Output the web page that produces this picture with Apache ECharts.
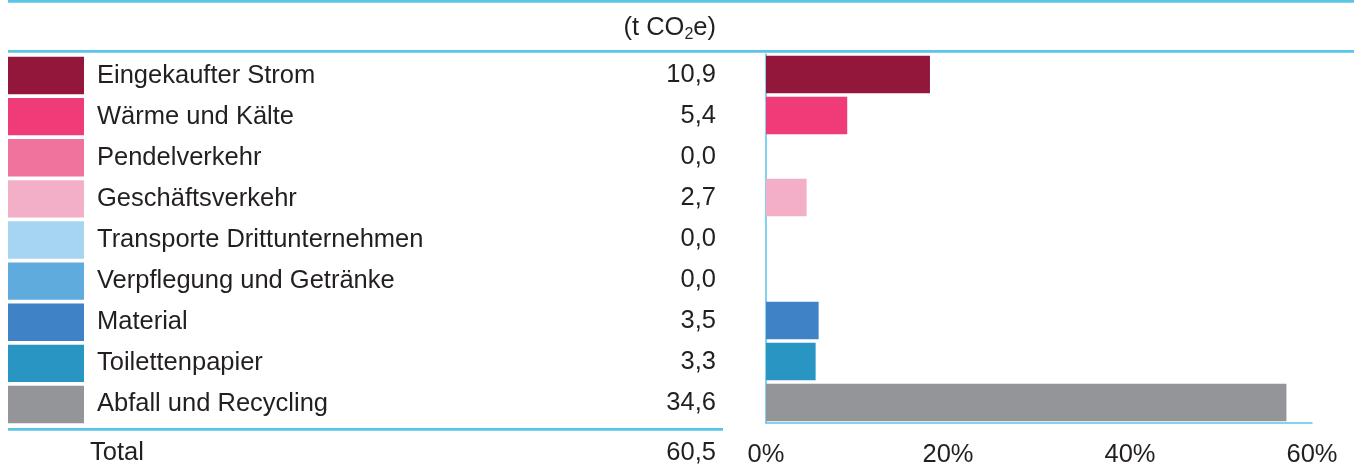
<!DOCTYPE html>
<html>
<head>
<meta charset="utf-8">
<script src="https://cdn.jsdelivr.net/npm/echarts@6/dist/echarts.min.js"></script>
<style>
html,body{margin:0;padding:0;background:#fff;}
#chart{width:1357px;height:468px;}
</style>
</head>
<body>
<div id="chart"></div>
<script>
// ---- data ----
var categories = ['Eingekaufter Strom','Wärme und Kälte','Pendelverkehr','Geschäftsverkehr','Transporte Drittunternehmen','Verpflegung und Getränke','Material','Toilettenpapier','Abfall und Recycling'];
var values = [10.9, 5.4, 0.0, 2.7, 0.0, 0.0, 3.5, 3.3, 34.6];
var colors = ['#93173b','#ef3b78','#ef739c','#f4afc8','#a6d5f1','#5fabdd','#3f82c5','#2995c3','#939598'];
var total = 60.5;
var totalLabel = 'Total';
var pctTicks = [0, 20, 40, 60];

// ---- chart ----
var FONT = '"Liberation Sans", Arial, sans-serif';
var FS = 25.5;
var TXT = '#231f20';
var BLUE = '#5bc5e8';
function fmt(v){ return v.toFixed(1).replace('.', ','); }

var chart = echarts.init(document.getElementById('chart'), null, {renderer:'canvas'});
var option = {
  animation:false,
  textStyle:{fontFamily:FONT},
  grid:[
    {left:766, right:45, top:54, height:370, containLabel:false},
    {left:8, width:76, top:55, height:370, containLabel:false}
  ],
  xAxis:[
    {type:'value', gridIndex:0, min:pctTicks[0], max:pctTicks[pctTicks.length-1], interval:pctTicks[1]-pctTicks[0],
     splitLine:{show:false}, axisTick:{show:false},
     axisLine:{show:true, lineStyle:{color:BLUE, width:1.5}},
     axisLabel:{formatter:'{value}%', fontSize:FS, color:TXT, fontFamily:FONT, margin:19}},
    {type:'value', gridIndex:1, min:0, max:1, show:false}
  ],
  yAxis:[
    {type:'category', gridIndex:0, inverse:true, data:values.map(fmt),
     axisTick:{show:false}, splitLine:{show:false},
     axisLine:{show:true, lineStyle:{color:BLUE, width:1.5}},
     axisLabel:{interval:0, fontSize:FS, color:TXT, fontFamily:FONT, margin:50, padding:[5,0,0,0]}},
    {type:'category', gridIndex:1, inverse:true, position:'right', data:categories,
     axisTick:{show:false}, axisLine:{show:false}, splitLine:{show:false},
     axisLabel:{interval:0, fontSize:FS, color:TXT, fontFamily:FONT, margin:13, align:'left', padding:[3,0,0,0]}}
  ],
  series:[
    {type:'bar', xAxisIndex:0, yAxisIndex:0, barCategoryGap:'8%',
     data:values.map(function(v,i){return {value:v/total*100, itemStyle:{color:colors[i]}};})},
    {type:'bar', xAxisIndex:1, yAxisIndex:1, barCategoryGap:'9%',
     data:categories.map(function(c,i){return {value:1, itemStyle:{color:colors[i]}};})}
  ],
  graphic:[
    {type:'line', shape:{x1:8, y1:1.3, x2:1354, y2:1.3}, style:{stroke:BLUE, lineWidth:2.7}},
    {type:'line', shape:{x1:8, y1:51.3, x2:1354, y2:51.3}, style:{stroke:BLUE, lineWidth:2.7}},
    {type:'line', shape:{x1:8, y1:429.3, x2:723, y2:429.3}, style:{stroke:BLUE, lineWidth:2.7}},
    {type:'text', x:716, y:28, style:{
      text:'{a|(t CO}{b|2}{a|e)}', align:'right', verticalAlign:'middle',
      rich:{a:{fontSize:FS, lineHeight:30, fill:TXT, fontFamily:FONT},
            b:{fontSize:16, lineHeight:16, fill:TXT, fontFamily:FONT, verticalAlign:'bottom'}}}},
    {type:'text', x:90, y:453, style:{text:totalLabel, font:FS+'px '+FONT, fill:TXT, align:'left', verticalAlign:'middle'}},
    {type:'text', x:716, y:453, style:{text:fmt(total), font:FS+'px '+FONT, fill:TXT, align:'right', verticalAlign:'middle'}}
  ]
};
chart.setOption(option);
</script>
</body>
</html>
